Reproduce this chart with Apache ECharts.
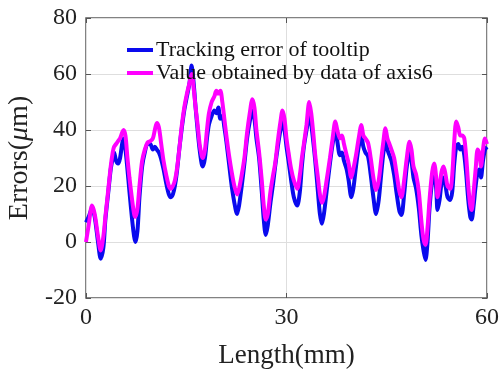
<!DOCTYPE html>
<html><head><meta charset="utf-8">
<script src="https://cdn.jsdelivr.net/npm/echarts@6/dist/echarts.min.js"></script>
<style>html,body{margin:0;padding:0;background:#fff}#c{width:500px;height:370px}</style>
</head><body><div id="c"></div>
<script>
const lengthMM = [0.0,0.4,0.9,1.3,1.8,2.2,2.6,2.9,3.3,3.7,4.0,4.2,4.5,4.8,5.1,5.4,5.6,5.9,6.2,6.5,6.9,7.2,7.4,7.7,8.0,8.4,8.8,9.2,9.6,10.0,10.3,10.6,10.9,11.2,11.6,12.0,12.4,12.7,13.0,13.3,13.6,14.0,14.3,14.7,15.1,15.5,15.8,16.1,16.4,16.7,17.0,17.3,17.5,17.8,18.1,18.4,18.8,19.2,19.5,19.8,20.1,20.4,20.7,21.0,21.4,21.8,22.2,22.6,22.9,23.3,23.7,24.1,24.5,24.9,25.2,25.5,25.9,26.3,26.6,26.9,27.2,27.6,28.0,28.3,28.7,29.1,29.4,29.7,30.0,30.3,30.7,31.1,31.6,32.0,32.3,32.6,33.0,33.4,33.7,34.0,34.3,34.7,35.0,35.3,35.6,36.0,36.5,36.9,37.3,37.6,38.0,38.3,38.6,39.0,39.3,39.7,40.0,40.4,40.8,41.2,41.5,41.8,42.2,42.6,43.0,43.4,43.8,44.2,44.5,44.8,45.1,45.4,45.7,46.1,46.5,46.9,47.2,47.6,48.0,48.4,48.7,49.0,49.4,49.8,50.2,50.5,50.8,51.1,51.4,51.8,52.1,52.4,52.6,52.9,53.2,53.5,53.8,54.1,54.5,54.8,55.1,55.4,55.7,56.0,56.3,56.6,56.9,57.2,57.5,57.7,58.0,58.3,58.6,58.9,59.1,59.4,59.7,60.0];
const trackingError = [7,9,12,9,0,-6,-2,8,17,26,30,32,29,28,30,35,37,33,26,18,8,2,0,4,16,27,32,35,35,33,34,33,32,30,26,21,17,16,17,20,25,34,40,47,52,57,63,57,48,40,33,28,27,30,37,42,45,47,46,48,44,45,41,36,28,20,14,10,13,20,28,37,43,47,44,37,30,18,8,2.5,6,14,21,27,34,40,43,40,34,29,22,16,13,18,27,34,40,45,42,36,29,18,10,6.5,10,18,28,35,40,36,31,32,29,26,22,16,19,27,34,37.6,34,32,30.5,24,16,10,15,25,32,36,33,31,29,24,17,11,9.6,17,27,32,29,23,19,12,2,-3,-6.4,0,12,22,24.5,19,11.4,15,21,23,20,16,15,18,28,34,35,33,34,31,24,15,9,8,13,20,25,26,23,29,33,34];
const axis6Value = [0,6,13,10,2,-3,2,9,18,27,32,34,35,36,37,39,40,38,30,23,15,10,9,12,20,29,33,35.5,36,37,40,42.5,41,36,29,24,20,19,20,22,26,34,41,48,53,57,60,55,48,42,35,31,30,33,40,46,50,52,54,53,54,50,44,38,31,25,20,17,19,24,30,39,46,51,48,40,32,22,13,8,10,18,24,28,36,43,47,44,37,32,26,22,19,24,30,35,42,50,46,39,31,23,17,14,16,22,30,37,43,40,37,38,35,31,28,23,26,31,37,41.8,38,37,35.4,30,23,18.6,22,30,36,40.6,37,35,33,30,24,18,16,22,30,35.8,33,27,24,18,7,1,-1,5,15,25,28,23,16,20,25,27,24,20,19,24,36,43,41,38,38,37,30,20,13,11.4,18,26,33,31,27,33,37,35];
const xTicks = [0, 30, 60];
const yTicks = [-20, 0, 20, 40, 60, 80];

const pairs = (xs, ys) => xs.map((x, i) => [x, ys[i]]);
const serif = '"Liberation Serif","Times New Roman",serif';
const chart = echarts.init(document.getElementById('c'), null, {renderer: 'canvas'});
const tickStyle = {show: true, inside: true, length: 5, lineStyle: {color: '#555', width: 1}};
chart.setOption({
  animation: false,
  backgroundColor: '#fff',
  grid: {left: 86, right: 13, top: 18, bottom: 72, containLabel: false, outerBoundsMode: 'none',
    show: true, borderColor: '#5a5a5a', borderWidth: 1.5, backgroundColor: 'transparent'},
  legend: {
    orient: 'vertical', left: 122, top: 34, itemGap: 1, itemWidth: 26, itemHeight: 4,
    icon: 'rect',
    textStyle: {fontFamily: serif, fontSize: 22, color: '#111', padding: [0,0,0,-2]},
    data: ['Tracking error of tooltip', 'Value obtained by data of axis6']
  },
  xAxis: [{
    type: 'value', min: xTicks[0], max: xTicks[xTicks.length - 1], interval: 30,
    name: 'Length(mm)', nameLocation: 'middle', nameGap: 44,
    nameTextStyle: {fontFamily: serif, fontSize: 27, color: '#222'},
    axisLine: {show: false, onZero: false}, axisTick: tickStyle,
    axisLabel: {fontFamily: serif, fontSize: 24, color: '#222', margin: 8},
    splitLine: {show: true, lineStyle: {color: '#dedede', width: 1}}
  }, {
    type: 'value', position: 'top', min: 0, max: 60, interval: 30,
    axisLine: {show: false, onZero: false}, axisTick: tickStyle, axisLabel: {show: false}, splitLine: {show: false}
  }],
  yAxis: [{
    type: 'value', min: yTicks[0], max: yTicks[yTicks.length - 1], interval: 20,
    name: 'Errors({i|μ}m)', nameLocation: 'middle', nameGap: 50,
    nameTextStyle: {fontFamily: serif, fontSize: 28, color: '#222',
      rich: {i: {fontFamily: serif, fontStyle: 'italic', fontSize: 28, color: '#222'}}},
    axisLine: {show: false, onZero: false}, axisTick: tickStyle,
    axisLabel: {fontFamily: serif, fontSize: 24, color: '#222', margin: 9},
    splitLine: {show: true, lineStyle: {color: '#dedede', width: 1}}
  }, {
    type: 'value', position: 'right', min: -20, max: 80, interval: 20,
    axisLine: {show: false, onZero: false}, axisTick: tickStyle, axisLabel: {show: false}, splitLine: {show: false}
  }],
  series: [{
    name: 'Tracking error of tooltip', type: 'line', data: pairs(lengthMM, trackingError),
    showSymbol: false, smooth: 0.3, color: '#0a0aee',
    lineStyle: {color: '#0a0aee', width: 4}
  }, {
    name: 'Value obtained by data of axis6', type: 'line', data: pairs(lengthMM, axis6Value),
    showSymbol: false, smooth: 0.3, color: '#ff00ff',
    lineStyle: {color: '#ff00ff', width: 4}
  }]
});
</script></body></html>
